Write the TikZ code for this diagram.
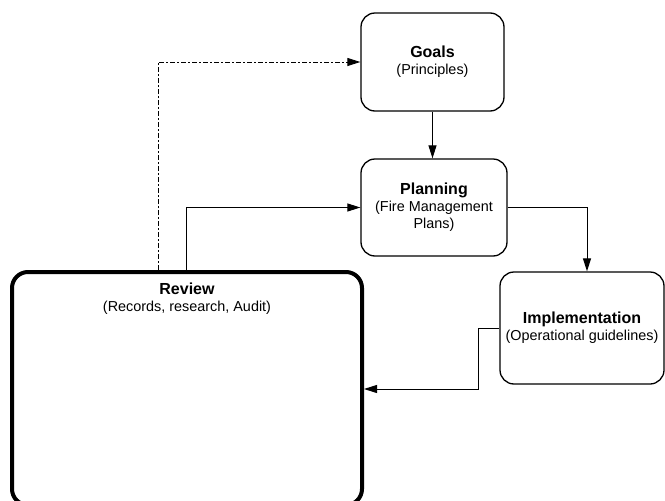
\documentclass[tikz,border=0pt]{standalone}
\usepackage{fontspec}
\setmainfont{Liberation Sans}
\usetikzlibrary{arrows.meta}
\begin{document}
\begin{tikzpicture}[x=1pt,y=-1pt,
  box/.style={draw, line width=1.3pt, rounded corners=14pt, align=center, inner sep=0pt, font=\fontsize{14.4}{17}\selectfont},
  ttl/.style={font=\fontsize{16}{17}\selectfont\bfseries},
  arr/.style={line width=1pt, -{Triangle[length=13pt,width=8pt]}},
  dasharr/.style={arr, dash pattern=on 5pt off 2pt on 2pt off 2pt}]
\useasboundingbox (0,0) rectangle (665,501);
\node[box, minimum width=143pt, minimum height=98pt] (goals) at (432.5,62)
  {{\fontsize{16}{17}\selectfont\bfseries Goals}\\(Principles)};
\node[box, minimum width=146pt, minimum height=97pt] (planning) at (434,207.5)
  {{\fontsize{16}{17}\selectfont\bfseries Planning}\\(Fire Management\\Plans)};
\node[box, minimum width=164pt, minimum height=112pt] (impl) at (582,328)
  {{\fontsize{16}{17}\selectfont\bfseries Implementation}\\(Operational guidelines)};
\node[draw, line width=4pt, rounded corners=16pt, minimum width=350pt, minimum height=233pt, inner sep=0pt] (review) at (187,388.5) {};
\node[anchor=north, align=center, inner sep=0pt, font=\fontsize{14.4}{17}\selectfont] (reviewtext) at (187,283)
  {{\fontsize{16}{17}\selectfont\bfseries Review}\\(Records, research, Audit)};
\coordinate (d1) at (158,0);
\coordinate (s1) at (186,0);
\coordinate (c2) at (478,389);
\draw[dasharr, line width=0.9pt] (review.north -| d1) |- (goals.west);
\draw[arr] (review.north -| s1) |- (planning.west);
\draw[arr] (goals.south) -- (planning.north -| goals.south);
\draw[arr] (planning.east) -| ([xshift=5pt]impl.north);
\draw[arr] (impl.west) -| (c2) -- (c2 -| review.east);
\end{tikzpicture}
\end{document}
